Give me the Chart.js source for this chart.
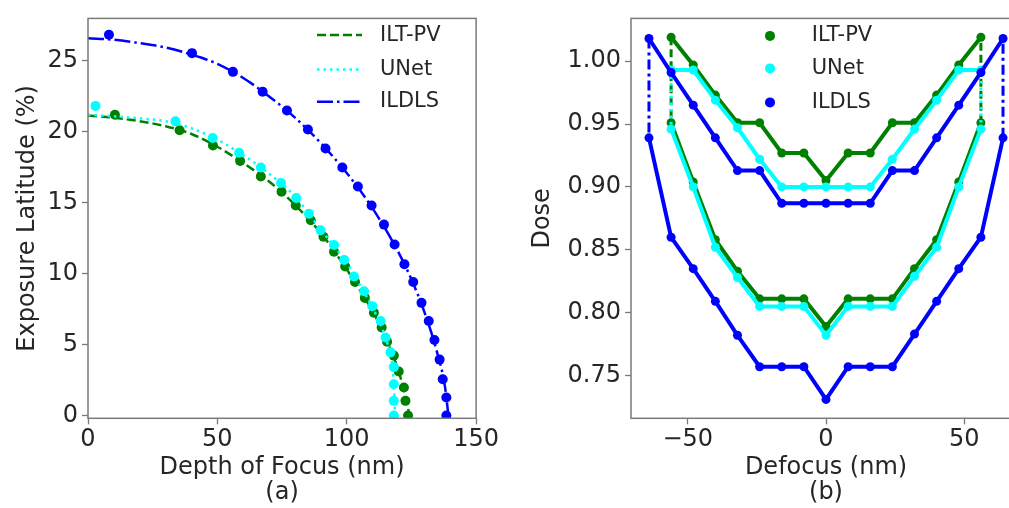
<!DOCTYPE html>
<html>
<head>
<meta charset="utf-8">
<script src="https://cdn.jsdelivr.net/npm/chart.js@4.4.1/dist/chart.umd.min.js"></script>
<style>
html, body { margin: 0; padding: 0; background: #fff; overflow: hidden; width: 1009px; height: 508px; }
#left { position: absolute; left: 0; top: 0; }
#right { position: absolute; left: 510px; top: 0; }
</style>
</head>
<body>
<canvas id="left" width="500" height="508"></canvas>
<canvas id="right" width="520" height="508"></canvas>
<script>
const names = ['ILT-PV', 'UNet', 'ILDLS'];
const colors = ['#008000', '#00ffff', '#0000ff'];

// ticks
const dofTicks = [0, 50, 100, 150];
const elTicks = [0, 5, 10, 15, 20, 25];
const defocusTicks = [-50, 0, 50];
const doseTicks = [0.75, 0.80, 0.85, 0.90, 0.95, 1.00];

// (a) fitted curves
const iltCurveX = [0, 10, 20, 30, 40, 50, 60, 70, 80, 90, 100, 105, 110, 115, 120, 122, 124.3];
const iltCurveY = [21.15, 21.0, 20.75, 20.4, 19.85, 18.95, 17.8, 16.5, 14.85, 12.85, 10.3, 8.85, 7.35, 5.5, 3.15, 1.85, 0];
const unetCurveX = [0, 10, 20, 30, 40, 50, 60, 70, 80, 90, 100, 105, 110, 114, 116.5, 118, 118.7];
const unetCurveY = [21.2, 21.1, 20.95, 20.75, 20.25, 19.45, 18.35, 17.05, 15.45, 13.1, 10.75, 9.25, 7.6, 6.0, 4.5, 2.8, 0];
const ildlsCurveX = [0, 10, 20, 30, 40, 50, 60, 70, 80, 90, 100, 110, 120, 125, 130, 135, 138, 139.3];
const ildlsCurveY = [26.6, 26.5, 26.25, 25.95, 25.45, 24.8, 23.8, 22.5, 21.0, 19.2, 17.1, 14.6, 11.5, 9.6, 7.3, 4.4, 2.0, 0];

// (a) measured points
const iltDof = [10.4, 35.4, 48.3, 58.8, 66.8, 74.8, 80.3, 86.1, 91.0, 95.1, 99.4, 103.2, 107.0, 110.5, 113.5, 115.6, 118.2, 120.1, 122.1, 122.7, 123.7];
const iltEl = [21.2, 20.11, 19.04, 17.95, 16.85, 15.78, 14.8, 13.76, 12.6, 11.55, 10.5, 9.41, 8.29, 7.24, 6.2, 5.2, 4.22, 3.1, 1.97, 1.03, 0];
const unetDof = [2.9, 33.8, 48.2, 58.4, 66.8, 74.6, 80.5, 85.4, 89.9, 95.1, 99.0, 102.8, 106.7, 109.9, 113.1, 115.0, 116.9, 118.2, 118.2, 118.2, 118.2];
const unetEl = [21.83, 20.74, 19.57, 18.53, 17.48, 16.39, 15.33, 14.22, 13.06, 12.02, 10.97, 9.8, 8.76, 7.71, 6.66, 5.5, 4.45, 3.41, 2.2, 1.03, 0];
const ildlsDof = [8.1, 40.2, 56.0, 67.5, 76.9, 85.0, 91.8, 98.3, 104.3, 109.6, 114.4, 118.5, 122.3, 125.7, 128.9, 131.7, 133.9, 135.9, 137.1, 138.5, 138.5];
const ildlsEl = [26.85, 25.55, 24.23, 22.83, 21.5, 20.16, 18.82, 17.48, 16.15, 14.81, 13.46, 12.06, 10.66, 9.41, 7.94, 6.66, 5.32, 3.94, 2.55, 1.27, 0];

// (b) process windows
const defocusShort = [-56, -48, -40, -32, -24, -16, -8, 0, 8, 16, 24, 32, 40, 48, 56];
const defocusLong = [-64, -56, -48, -40, -32, -24, -16, -8, 0, 8, 16, 24, 32, 40, 48, 56, 64];
const iltUpper = [1.019, 0.997, 0.973, 0.951, 0.951, 0.927, 0.927, 0.905, 0.927, 0.927, 0.951, 0.951, 0.973, 0.997, 1.019];
const iltLower = [0.951, 0.904, 0.858, 0.833, 0.811, 0.811, 0.811, 0.789, 0.811, 0.811, 0.811, 0.835, 0.858, 0.904, 0.951];
const unetUpper = [0.993, 0.993, 0.969, 0.947, 0.922, 0.900, 0.900, 0.900, 0.900, 0.900, 0.922, 0.946, 0.969, 0.993, 0.993];
const unetLower = [0.946, 0.900, 0.852, 0.828, 0.805, 0.805, 0.805, 0.782, 0.805, 0.805, 0.805, 0.829, 0.852, 0.900, 0.946];
const ildlsUpper = [1.018, 0.991, 0.965, 0.939, 0.913, 0.913, 0.887, 0.887, 0.887, 0.887, 0.887, 0.913, 0.913, 0.939, 0.965, 0.991, 1.018];
const ildlsLower = [0.939, 0.860, 0.835, 0.809, 0.782, 0.757, 0.757, 0.757, 0.731, 0.757, 0.757, 0.757, 0.783, 0.809, 0.835, 0.860, 0.939];

const FONT = "'DejaVu Sans', sans-serif";
const TXT = '#262626';
const SPINE = '#7a7a7a';
Chart.defaults.font.family = FONT;
Chart.defaults.color = TXT;

const xy = (xs, ys) => xs.map((x, i) => ({x: x, y: ys[i]}));

// box around the plot, like matplotlib spines
const framePlugin = {
  id: 'frame',
  afterDraw(chart) {
    const a = chart.chartArea, c = chart.ctx;
    c.save();
    c.strokeStyle = SPINE;
    c.lineWidth = 1.5;
    c.strokeRect(a.left, a.top, a.right - a.left, a.bottom - a.top);
    c.restore();
  }
};

function axis(ticks, min, max, fmt, title, titlePad, size, tickPad) {
  return {
    type: 'linear', min: min, max: max,
    afterBuildTicks: s => { s.ticks = ticks.map(v => ({value: v})); },
    afterFit: s => { if (s.isHorizontal()) s.height = size; else s.width = size; },
    grid: { drawOnChartArea: false, drawTicks: true, tickLength: 6, tickColor: SPINE, tickWidth: 1.3 },
    border: { display: false },
    ticks: { padding: tickPad, autoSkip: false, maxRotation: 0, color: TXT, font: { size: 24 }, callback: fmt },
    title: { display: true, text: title, color: TXT, font: { size: 24, lineHeight: 1.04 }, padding: titlePad }
  };
}

// ---------- (a) ----------
const lineDash = [[9, 4], [2.5, 4], [16, 4, 2.5, 4]];
const curves = [[iltCurveX, iltCurveY], [unetCurveX, unetCurveY], [ildlsCurveX, ildlsCurveY]];
const marks = [[iltDof, iltEl], [unetDof, unetEl], [ildlsDof, ildlsEl]];
const leftSets = [];
names.forEach((n, k) => {
  leftSets.push({
    label: n, data: xy(curves[k][0], curves[k][1]), showLine: true,
    borderColor: colors[k], borderWidth: 2.5, borderDash: lineDash[k],
    pointRadius: 0, cubicInterpolationMode: 'monotone', order: 2 * (3 - k) + 1
  });
  leftSets.push({
    label: n + ' points', data: xy(marks[k][0], marks[k][1]), showLine: false,
    pointRadius: 5, pointBackgroundColor: colors[k], pointBorderWidth: 0, order: 2 * (3 - k)
  });
});

const leftLegend = {
  id: 'leftLegend',
  afterDraw(chart) {
    const a = chart.chartArea, c = chart.ctx;
    const rows = [16.7, 51, 83.3];
    c.save();
    names.forEach((n, k) => {
      const y = a.top + rows[k];
      c.strokeStyle = colors[k];
      c.lineWidth = 2.5;
      c.setLineDash(lineDash[k]);
      c.beginPath();
      c.moveTo(a.left + 229, y);
      c.lineTo(a.left + 274, y);
      c.stroke();
      c.setLineDash([]);
      c.fillStyle = TXT;
      c.font = '21px ' + FONT;
      c.textBaseline = 'middle';
      c.fillText(n, a.left + 292, y);
    });
    c.restore();
  }
};

new Chart(document.getElementById('left'), {
  type: 'scatter',
  data: { datasets: leftSets },
  options: {
    responsive: false, animation: false, events: [],
    layout: { padding: { top: 14, right: 22.5, left: 0, bottom: 0 } },
    plugins: { legend: { display: false }, tooltip: { enabled: false } },
    scales: {
      x: axis(dofTicks, 0, 150, v => v, ['Depth of Focus (nm)', '(a)'], { top: 0, bottom: 2.5 }, 89.7, 1),
      y: axis(elTicks, -0.2, 28, v => v, 'Exposure Latitude (%)', { top: 15, bottom: 0 }, 88, 4)
    }
  },
  plugins: [framePlugin, leftLegend]
});

// ---------- (b) ----------
const endDash = [[8, 4], [2.5, 4], [10, 4, 3, 4]];
const windows = [[defocusShort, iltUpper, iltLower], [defocusShort, unetUpper, unetLower], [defocusLong, ildlsUpper, ildlsLower]];
const rightSets = [];
names.forEach((n, k) => {
  const xs = windows[k][0], up = windows[k][1], lo = windows[k][2];
  const last = xs.length - 1;
  const o = 3 * (3 - k);
  const solid = {
    showLine: true, borderColor: colors[k], borderWidth: 4,
    pointRadius: 4.5, pointBackgroundColor: colors[k], pointBorderWidth: 0, order: o
  };
  rightSets.push(Object.assign({ label: n + ' upper', data: xy(xs, up) }, solid));
  rightSets.push(Object.assign({ label: n + ' lower', data: xy(xs, lo) }, solid));
  rightSets.push({
    label: n + ' edges',
    data: [{x: xs[0], y: up[0]}, {x: xs[0], y: lo[0]}, {x: 0, y: null}, {x: xs[last], y: lo[last]}, {x: xs[last], y: up[last]}],
    showLine: true, spanGaps: false, borderColor: colors[k], borderWidth: 3, borderDash: endDash[k],
    pointRadius: 0, order: o + 1
  });
});

const rightLegend = {
  id: 'rightLegend',
  afterDraw(chart) {
    const a = chart.chartArea, c = chart.ctx;
    const rows = [17.5, 50, 84];
    c.save();
    names.forEach((n, k) => {
      const y = a.top + rows[k];
      c.fillStyle = colors[k];
      c.beginPath();
      c.arc(a.left + 139, y, 5, 0, Math.PI * 2);
      c.fill();
      c.fillStyle = TXT;
      c.font = '21px ' + FONT;
      c.textBaseline = 'middle';
      c.fillText(n, a.left + 180.7, y);
    });
    c.restore();
  }
};

new Chart(document.getElementById('right'), {
  type: 'scatter',
  data: { datasets: rightSets },
  options: {
    responsive: false, animation: false, events: [],
    layout: { padding: { top: 14, right: 9, left: 0, bottom: 0 } },
    plugins: { legend: { display: false }, tooltip: { enabled: false } },
    scales: {
      x: axis(defocusTicks, -70.5, 70.5, v => String(v).replace('-', '\u2212'), ['Defocus (nm)', '(b)'], { top: 0, bottom: 2.5 }, 89.7, 1),
      y: axis(doseTicks, 0.716, 1.034, v => v.toFixed(2), 'Dose', { top: 20, bottom: 0 }, 121, 4)
    }
  },
  plugins: [framePlugin, rightLegend]
});
</script>
</body>
</html>
